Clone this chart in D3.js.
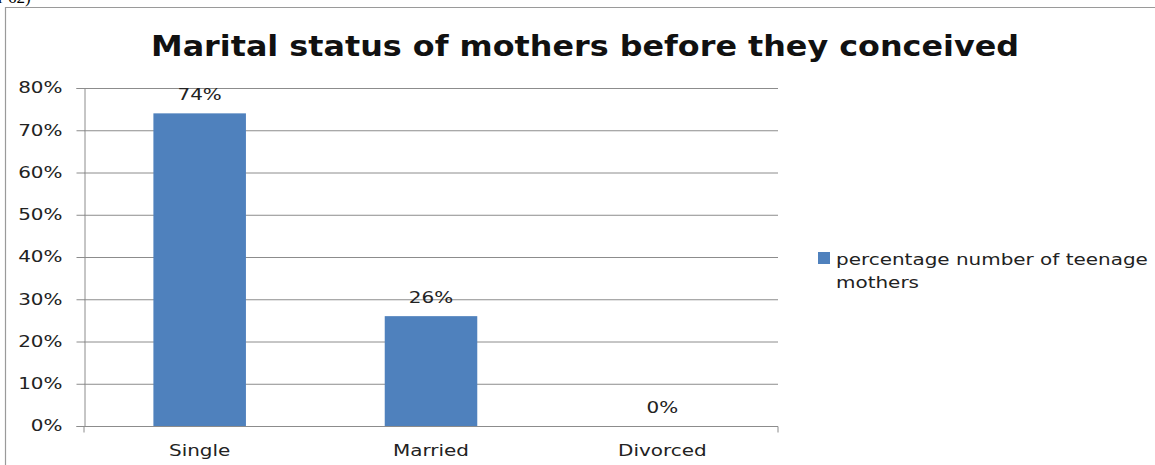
<!DOCTYPE html>
<html><head><meta charset="utf-8">
<script src="https://cdn.jsdelivr.net/npm/d3@7"></script>
<style>body{margin:0;background:#fff}svg{display:block}</style>
</head><body>
<svg id="c" width="1155" height="465"></svg>
<script>
const categories = ["Single", "Married", "Divorced"];
const values = [74, 26, 0];
const valueLabels = ["74%", "26%", "0%"];
const yTicks = [0, 10, 20, 30, 40, 50, 60, 70, 80];
const seriesName = "percentage number of teenage mothers";
const title = "Marital status of mothers before they conceived";

const svg = d3.select("#c");
const font = "'DejaVu Sans', Verdana, sans-serif";
const FS = 15, STRETCH = 1.33;

function stretch(sel) {
  sel.each(function () {
    const w = this.getComputedTextLength();
    d3.select(this).attr("textLength", w * STRETCH).attr("lengthAdjust", "spacingAndGlyphs");
  });
}

// clipped caption fragment at top-left
svg.append("text").attr("x", -2).attr("y", 3).attr("font-family", "'Liberation Serif', serif")
  .attr("font-size", 17).attr("fill", "#000").text("r 62)");

// chart border
svg.append("path").attr("d", "M5.5,465 V7.5 H1155").attr("fill", "none").attr("stroke", "#9a9a9a").attr("stroke-width", 1.2);

const x = d3.scaleBand().domain(categories).range([84, 778]).paddingInner(0.6).paddingOuter(0.3);
const y = d3.scaleLinear().domain([0, 80]).range([426, 88]);

// gridlines
svg.append("g").selectAll("line").data(yTicks).join("line")
  .attr("x1", 84).attr("x2", 778).attr("y1", d => y(d) + 0.5).attr("y2", d => y(d) + 0.5)
  .attr("stroke", "#8c8c8c").attr("stroke-width", 1);

// y axis
const yAxis = svg.append("g").attr("transform", "translate(84.5,0)")
  .call(d3.axisLeft(y).tickValues(yTicks).tickSize(8).tickPadding(14).tickFormat(d => d + "%"));
yAxis.select(".domain").attr("stroke", "#8c8c8c");
yAxis.selectAll(".tick line").attr("stroke", "#8c8c8c");
yAxis.selectAll(".tick text").attr("font-family", font).attr("font-size", FS).attr("fill", "#222").call(stretch);

// x axis
const xAxis = svg.append("g").attr("transform", "translate(0,426.5)")
  .call(d3.axisBottom(x).tickSize(0).tickPadding(19));
xAxis.select(".domain").attr("stroke", "#8c8c8c").attr("d", "M84,6V0H778V6");
xAxis.selectAll(".tick text").attr("font-family", font).attr("font-size", FS).attr("fill", "#222").call(stretch);

// bars
svg.append("g").selectAll("rect").data(values).join("rect")
  .attr("x", (d, i) => x(categories[i])).attr("width", x.bandwidth())
  .attr("y", d => y(d)).attr("height", d => y(0) - y(d))
  .attr("fill", "#4f81bd");

// value labels
svg.append("g").selectAll("text").data(values).join("text")
  .attr("x", (d, i) => x(categories[i]) + x.bandwidth() / 2)
  .attr("y", d => y(d) - 13)
  .attr("text-anchor", "middle").attr("font-family", font).attr("font-size", FS).attr("fill", "#222")
  .text((d, i) => valueLabels[i]).call(stretch);

// title
svg.append("text").attr("x", 585).attr("y", 56).attr("text-anchor", "middle")
  .attr("font-family", font).attr("font-weight", "bold").attr("font-size", 28).attr("fill", "#111")
  .attr("textLength", 868).attr("lengthAdjust", "spacingAndGlyphs")
  .text(title);

// legend
svg.append("rect").attr("x", 818).attr("y", 252).attr("width", 12).attr("height", 12).attr("fill", "#4f81bd");
const words = seriesName.split(" ");
[words.slice(0, 4).join(" "), words.slice(4).join(" ")].forEach((t, i) => {
  svg.append("text").attr("x", 836).attr("y", 265 + i * 23)
    .attr("font-family", font).attr("font-size", FS).attr("fill", "#222").text(t).call(stretch);
});
</script>
</body></html>
